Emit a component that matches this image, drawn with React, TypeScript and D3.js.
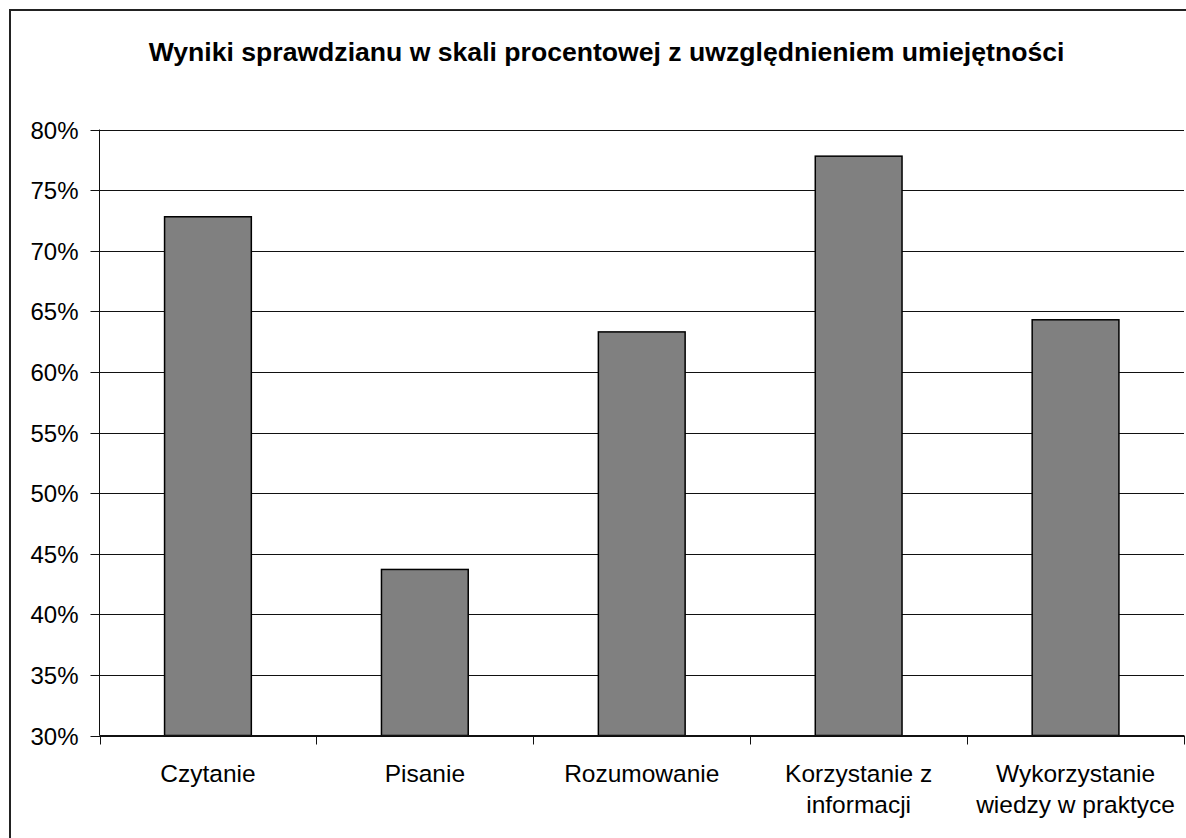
import React from "react";
import * as d3 from "d3";

const categories: string[][] = [
  ["Czytanie"],
  ["Pisanie"],
  ["Rozumowanie"],
  ["Korzystanie z", "informacji"],
  ["Wykorzystanie", "wiedzy w praktyce"],
];
const values: number[] = [72.8, 43.7, 63.3, 77.8, 64.3];
const yTicks: number[] = [30, 35, 40, 45, 50, 55, 60, 65, 70, 75, 80];
const title = "Wyniki sprawdzianu w skali procentowej z uwzględnieniem umiejętności";

const W = 1186;
const H = 838;
const plot = { left: 99.5, right: 1184, top: 129.5, bottom: 735.5 };
const FONT = "'Liberation Sans', Arial, Helvetica, sans-serif";

export default function App() {
  const x = d3
    .scaleBand<number>()
    .domain(d3.range(categories.length))
    .range([plot.left, plot.right])
    .paddingInner(0.6)
    .paddingOuter(0.3);
  const xTick = d3
    .scaleBand<number>()
    .domain(d3.range(categories.length))
    .range([plot.left, plot.right]);
  const y = d3.scaleLinear().domain([30, 80]).range([plot.bottom, plot.top]);
  const tickPositions = d3.range(categories.length + 1).map((i) =>
    i < categories.length ? (xTick(i) as number) : plot.right
  );

  return (
    <svg
      width={W}
      height={H}
      style={{ position: "absolute", left: 0, top: 0, background: "#fff" }}
      fontFamily={FONT}
    >
      <rect x={0} y={0} width={W} height={H} fill="#fff" />
      <rect x={10} y={10} width={1220} height={900} fill="none" stroke="#222" strokeWidth={2} />
      <text
        x={606.5}
        y={61}
        textAnchor="middle"
        fontWeight="bold"
        fontSize={26.6}
        fill="#000"
      >
        {title}
      </text>
      {/* gridlines */}
      {yTicks.map((t) => (
        <line
          key={"g" + t}
          x1={plot.left - 9}
          x2={plot.right}
          y1={Math.round(y(t)) + 0.5}
          y2={Math.round(y(t)) + 0.5}
          stroke="#111"
          strokeWidth={1}
        />
      ))}
      {yTicks.map((t) => (
        <text
          key={"t" + t}
          x={78.5}
          y={Math.round(y(t)) + 9}
          textAnchor="end"
          fontSize={24}
          fill="#000"
        >
          {t}%
        </text>
      ))}
      {/* left axis */}
      <line x1={plot.left} x2={plot.left} y1={plot.top} y2={plot.bottom} stroke="#111" strokeWidth={1} />
      {/* bars */}
      {values.map((v, i) => (
        <rect
          key={"b" + i}
          x={x(i) as number}
          y={y(v)}
          width={x.bandwidth()}
          height={plot.bottom - y(v)}
          fill="#808080"
          stroke="#000"
          strokeWidth={1.5}
        />
      ))}
      {/* bottom axis */}
      <line x1={plot.left} x2={plot.right} y1={plot.bottom} y2={plot.bottom} stroke="#111" strokeWidth={1.2} />
      {tickPositions.map((p, i) => (
        <line
          key={"xt" + i}
          x1={Math.round(p) + 0.5}
          x2={Math.round(p) + 0.5}
          y1={plot.bottom}
          y2={plot.bottom + 9}
          stroke="#111"
          strokeWidth={1}
        />
      ))}
      {categories.map((lines, i) => {
        const cx = (xTick(i) as number) + xTick.bandwidth() / 2;
        return (
          <text key={"c" + i} textAnchor="middle" fontSize={24.5} fill="#000">
            {lines.map((l, j) => (
              <tspan key={j} x={cx} y={782 + j * 30.6}>
                {l}
              </tspan>
            ))}
          </text>
        );
      })}
    </svg>
  );
}
